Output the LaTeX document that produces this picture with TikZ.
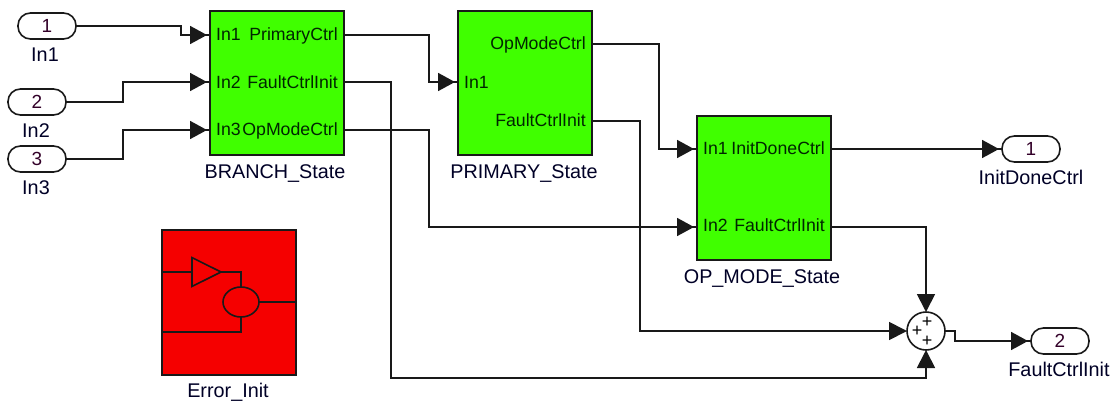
\documentclass[tikz,border=0pt]{standalone}
\usepackage{fontspec}
\setmainfont{Liberation Sans}
\usetikzlibrary{arrows.meta,shapes.geometric,calc}
\definecolor{blockgreen}{HTML}{40FF00}
\definecolor{blockred}{HTML}{F50000}
\tikzset{
  wire/.style={line width=1.8pt,draw=black!90},
  into/.style={wire,-{Triangle[length=17pt,width=18pt,sep=0pt]Square[length=3pt,width=1.8pt]}},
  intosum/.style={wire,-{Triangle[length=18pt,width=18pt]}},
  statebox/.style={draw=black!90,line width=2pt,fill=blockgreen,minimum width=134pt,minimum height=144pt,inner sep=0pt,outer sep=0pt,anchor=north west},
  errbox/.style={draw=black!90,line width=2pt,fill=blockred,minimum width=134pt,minimum height=145pt,inner sep=0pt,outer sep=0pt,anchor=north west},
  pill/.style={draw=black!90,line width=1.6pt,rounded corners=12.5pt,minimum width=58pt,minimum height=26pt,inner sep=0pt,outer sep=0pt,fill=white,font=\fontsize{19}{20}\selectfont,text=black!80!blue!80!red},
  captext/.style={inner sep=0pt,anchor=base,font=\fontsize{19.8}{22}\selectfont,text=black!85!blue},
  portw/.style={inner sep=0pt,anchor=base west,font=\fontsize{17.7}{20}\selectfont,text=black!85!green},
  porte/.style={inner sep=0pt,anchor=base east,font=\fontsize{17.7}{20}\selectfont,text=black!85!green},
  sumnode/.style={draw=black!90,line width=1.6pt,circle,minimum size=38pt,inner sep=0pt,outer sep=0pt,fill=white},
  plussign/.style={inner sep=0pt,font=\fontsize{18}{18}\selectfont}
}
\begin{document}
\begin{tikzpicture}[x=1pt,y=-1pt]
\useasboundingbox (0,0) rectangle (1117,400);
% blocks
\node[statebox] (branch) at (210,11) {};
\node[statebox] (primary) at (458,11) {};
\node[statebox] (opmode) at (697,116) {};
\node[errbox] (err) at (162,230) {};
% sources and sinks
\node[pill] (in1) at (47,26) {1};
\node[pill] (in2) at (37,102) {2};
\node[pill] (in3) at (37,159) {3};
\node[pill] (out1) at (1031,149) {1};
\node[pill] (out2) at (1060,341) {2};
\node[sumnode] (sum) at (926,331) {};
\node[plussign] (p1) at (927,322) {+};
\node[plussign] (p2) at (917,331) {+};
\node[plussign] (p3) at (927,341) {+};
% port coordinates
\coordinate (bi1) at (branch.west |- 0,35);
\coordinate (bi2) at (branch.west |- 0,82);
\coordinate (bi3) at (branch.west |- 0,130);
\coordinate (bo1) at (branch.east |- 0,35);
\coordinate (bo2) at (branch.east |- 0,82);
\coordinate (bo3) at (branch.east |- 0,130);
\coordinate (pi1) at (primary.west |- 0,82);
\coordinate (po1) at (primary.east |- 0,44);
\coordinate (po2) at (primary.east |- 0,121);
\coordinate (oi1) at (opmode.west |- 0,149);
\coordinate (oi2) at (opmode.west |- 0,227);
\coordinate (oo1) at (opmode.east |- 0,149);
\coordinate (oo2) at (opmode.east |- 0,227);
% port labels
\node[portw] (l1) at (216,40) {In1};
\node[porte] (l2) at (338,40) {PrimaryCtrl};
\node[portw] (l3) at (216,88) {In2};
\node[porte] (l4) at (338,88) {FaultCtrlInit};
\node[portw] (l5) at (216,135) {In3};
\node[porte] (l6) at (338,135) {OpModeCtrl};
\node[portw] (l7) at (464,88) {In1};
\node[porte] (l8) at (586,49) {OpModeCtrl};
\node[porte] (l9) at (586,126) {FaultCtrlInit};
\node[portw] (l10) at (703,154) {In1};
\node[porte] (l11) at (825,154) {InitDoneCtrl};
\node[portw] (l12) at (703,231) {In2};
\node[porte] (l13) at (825,231) {FaultCtrlInit};
% captions
\node[captext] (c1) at (45,61) {In1};
\node[captext] (c2) at (36,137) {In2};
\node[captext] (c3) at (36,194) {In3};
\node[captext] (c4) at (275,178) {BRANCH\_State};
\node[captext] (c5) at (524,178) {PRIMARY\_State};
\node[captext] (c6) at (762,283) {OP\_MODE\_State};
\node[captext] (c7) at (228,397) {Error\_Init};
\node[captext] (c8) at (1031,184) {InitDoneCtrl};
\node[captext] (c9) at (1059,376) {FaultCtrlInit};
% connectors
\draw[into] (in1.east) -- (181,26) -- (181,35) -- (bi1);
\draw[into] (in2.east) -- (123,102) -- (123,82) -- (bi2);
\draw[into] (in3.east) -- (123,159) -- (123,130) -- (bi3);
\draw[into] (bo1) -- (429,35) -- (429,82) -- (pi1);
\draw[into] (bo3) -- (429,130) -- (429,227) -- (oi2);
\draw[into] (po1) -- (659,44) -- (659,149) -- (oi1);
\draw[intosum] (po2) -- (640,121) -- (640,331) -- (sum.west);
\draw[intosum] (bo2) -- (391,82) -- (391,378) -- (926,378) -- (sum.south);
\draw[intosum] (oo2) -- (926,227) -- (sum.north);
\draw[into] (oo1) -- (out1.west);
\draw[into] (sum.east) -- (955,331) -- (955,341) -- (out2.west);
% icon inside Error_Init
\begin{scope}[line width=1.6pt,draw=black!90]
\node[draw=black!90,line width=1.6pt,isosceles triangle,isosceles triangle apex angle=53,minimum height=29pt,inner sep=0pt,outer sep=0pt,anchor=apex] (gain) at (221,272) {};
\node[draw=black!90,line width=1.6pt,ellipse,minimum width=36pt,minimum height=30pt,inner sep=0pt,outer sep=0pt] (comb) at (241,302) {};
\coordinate (e1) at (err.west |- 0,272);
\draw (e1) -- (192,272);
\draw (gain.apex) -| (comb.north);
\coordinate (e2) at (err.west |- 0,332);
\draw (comb.south) |- (e2);
\draw (comb.east) -- (err.east |- comb.east);
\end{scope}
\end{tikzpicture}
\end{document}
